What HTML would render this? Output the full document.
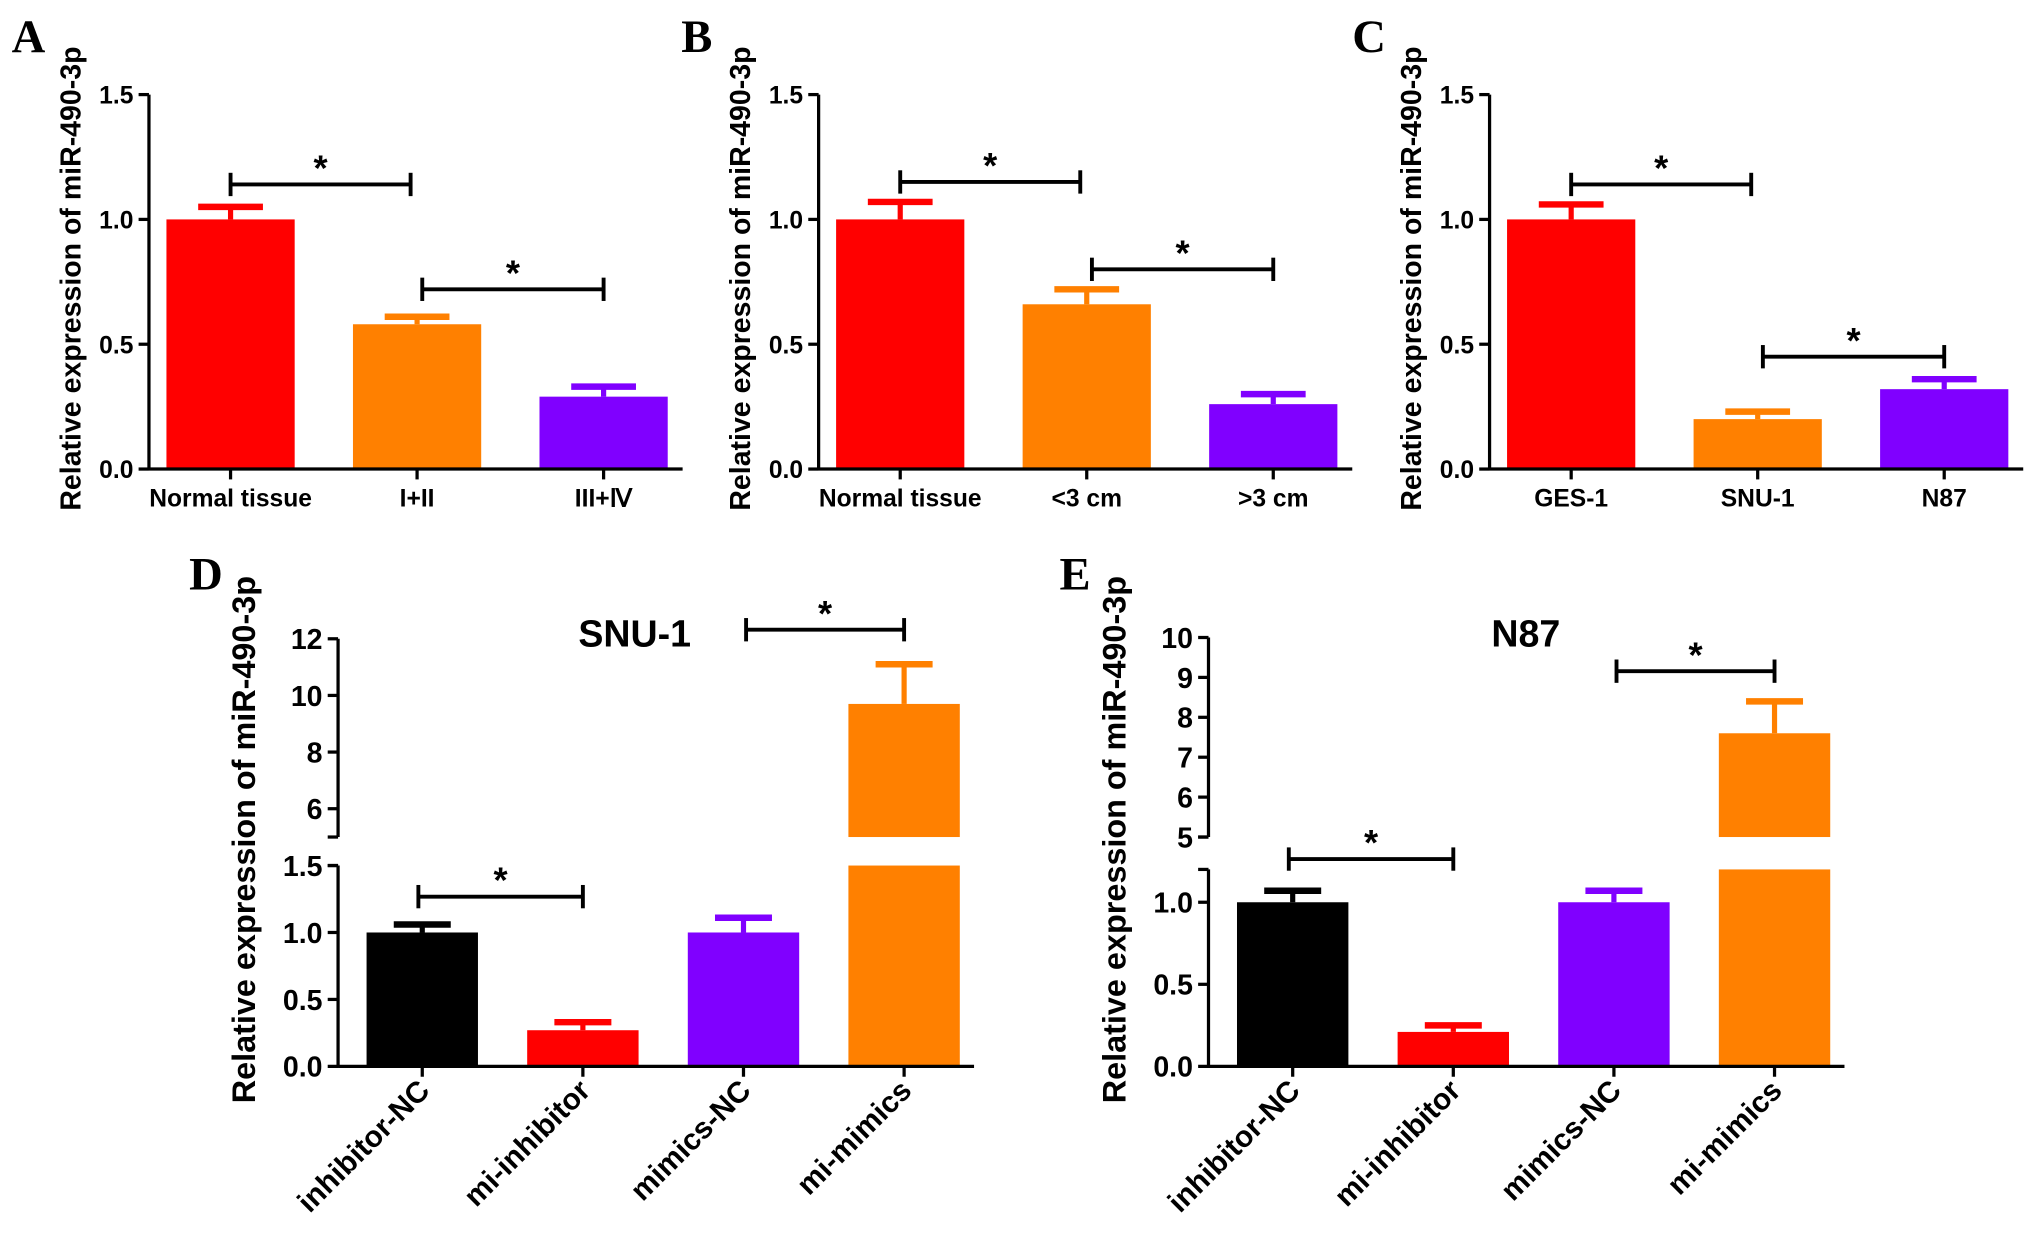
<!DOCTYPE html>
<html><head><meta charset="utf-8"><style>
html,body{margin:0;padding:0;background:#fff;}
svg{display:block;}
text{font-family:"Liberation Sans",Arial,sans-serif;font-weight:bold;fill:#000;}
.lt{font-family:"Liberation Serif",serif;font-weight:bold;}
</style></head><body>
<svg id="fig" xmlns="http://www.w3.org/2000/svg" width="2031" height="1240" viewBox="0 0 1568 957" preserveAspectRatio="none"></svg>
<script>
// ---- data ----
const catsA = ["Normal tissue","I+II","III+Ⅳ"];
const valsA = [1.0, 0.58, 0.29];
const errsA = [0.05, 0.03, 0.04];
const catsB = ["Normal tissue","<3 cm",">3 cm"];
const valsB = [1.0, 0.66, 0.26];
const errsB = [0.07, 0.06, 0.04];
const catsC = ["GES-1","SNU-1","N87"];
const valsC = [1.0, 0.2, 0.32];
const errsC = [0.06, 0.03, 0.04];
const catsD = ["inhibitor-NC","mi-inhibitor","mimics-NC","mi-mimics"];
const valsD = [1.0, 0.27, 1.0, 9.7];
const errsD = [0.06, 0.06, 0.11, 1.4];
const catsE = ["inhibitor-NC","mi-inhibitor","mimics-NC","mi-mimics"];
const valsE = [1.0, 0.21, 1.0, 7.6];
const errsE = [0.07, 0.04, 0.07, 0.8];
const ticksSmall = [0, 0.5, 1.0, 1.5];
const ticksDUp = [6, 8, 10, 12];
const ticksEUp = [5, 6, 7, 8, 9, 10];
const ticksELow = [0, 0.5, 1.0];

const NS="http://www.w3.org/2000/svg";
const svg=document.getElementById('fig');
function mk(tag,attrs,parent,txt){const e=document.createElementNS(NS,tag);for(const k in attrs)e.setAttribute(k,attrs[k]);if(txt!==undefined)e.textContent=txt;(parent||svg).appendChild(e);return e;}
const fmt=v=>Number.isInteger(v)&&v>=2?String(v):v.toFixed(1);

function sig(g,x1,x2,y){
  const b=mk('g',{},g);
  
  
  mk('line',{x1:x1,x2:x2,y1:y,y2:y,stroke:'#000','stroke-width':3},b);
  mk('line',{x1:x1,x2:x1,y1:y-9,y2:y+9,stroke:'#000','stroke-width':3},b);
  mk('line',{x1:x2,x2:x2,y1:y-9,y2:y+9,stroke:'#000','stroke-width':3},b);
  const s=mk('text',{x:(x1+x2)/2,y:y-3,'text-anchor':'middle','font-size':28},b,'*');
  
  
}

function simplePanel(o){
  const g=mk('g',{});
  
  
  const y0=362,y1=73,max=1.5;
  const Y=v=>y0-(v/max)*(y0-y1);
  const bw=99,step=144,c0=o.ax+63;
  const X=i=>c0+i*step;
  const L=mk('text',{x:o.ax-106,y:40,'font-size':36,class:'lt'},g,o.letter);
  
  
  const t=mk('text',{transform:`translate(${o.ax-53},${215}) rotate(-90)`,'text-anchor':'middle','font-size':22},g,'Relative expression of miR-490-3p');
  
  
  o.vals.forEach((v,i)=>{
    const col=o.colors[i];
    const r=mk('rect',{x:X(i)-bw/2,y:Y(v),width:bw,height:y0-Y(v),fill:col},g);
    
    
    mk('line',{x1:X(i),x2:X(i),y1:Y(v),y2:Y(v+o.errs[i]),stroke:col,'stroke-width':4},g);
    mk('line',{x1:X(i)-25,x2:X(i)+25,y1:Y(v+o.errs[i]),y2:Y(v+o.errs[i]),stroke:col,'stroke-width':5},g);
    mk('line',{x1:X(i),x2:X(i),y1:y0,y2:y0+8,stroke:'#000','stroke-width':2.5},g);
    const lb=mk('text',{x:X(i),y:391,'text-anchor':'middle','font-size':19},g,o.cats[i]);
    
    
  });
  mk('line',{x1:o.ax,x2:o.ax,y1:y1,y2:y0+1,stroke:'#000','stroke-width':2.5},g);
  mk('line',{x1:o.ax,x2:o.ax+412,y1:y0,y2:y0,stroke:'#000','stroke-width':2.5},g);
  ticksSmall.forEach(tv=>{
    mk('line',{x1:o.ax-8,x2:o.ax,y1:Y(tv),y2:Y(tv),stroke:'#000','stroke-width':2.5},g);
    const tl=mk('text',{x:o.ax-12,y:Y(tv)+7,'text-anchor':'end','font-size':19},g,fmt(tv));
    
    
  });
  sig(g,X(0),X(1)-5,Y(o.s1));
  sig(g,X(1)+4,X(2),Y(o.s2));
}
simplePanel({letter:'A',ax:115,cats:catsA,vals:valsA,errs:errsA,colors:['#ff0000','#ff8000','#8000ff'],s1:1.14,s2:0.72});
simplePanel({letter:'B',ax:632,cats:catsB,vals:valsB,errs:errsB,colors:['#ff0000','#ff8000','#8000ff'],s1:1.15,s2:0.8});
simplePanel({letter:'C',ax:1150,cats:catsC,vals:valsC,errs:errsC,colors:['#ff0000','#ff8000','#8000ff'],s1:1.14,s2:0.45});

function brokenPanel(o){
  const g=mk('g',{});
  
  
  const y0=823,lowTop=o.lowTopY,upBot=646,upTop=o.upTopY;
  const YL=v=>y0-(v/o.lowMax)*(y0-lowTop);
  const YU=v=>upBot-((v-o.upMin)/(o.upMax-o.upMin))*(upBot-upTop);
  const Y=v=>v<=o.lowMax?YL(v):YU(v);
  const bw=86,step=124,c0=o.ax+65;
  const X=i=>c0+i*step;
  const L=mk('text',{x:o.ax-115,y:455,'font-size':36,class:'lt'},g,o.letter);
  
  
  const t=mk('text',{transform:`translate(${o.ax-64},${648}) rotate(-90)`,'text-anchor':'middle','font-size':25},g,'Relative expression of miR-490-3p');
  
  
  const tt=mk('text',{x:o.titleX,y:499,'text-anchor':'middle','font-size':29},g,o.title);
  
  
  o.vals.forEach((v,i)=>{
    const col=o.colors[i];
    const e=v+o.errs[i];
    if(v<=o.lowMax){
      const r=mk('rect',{x:X(i)-bw/2,y:YL(v),width:bw,height:y0-YL(v),fill:col},g);
      
      
    } else {
      const r=mk('rect',{x:X(i)-bw/2,y:lowTop,width:bw,height:y0-lowTop,fill:col},g);
      
      
      const r2=mk('rect',{x:X(i)-bw/2,y:YU(v),width:bw,height:upBot-YU(v),fill:col},g);
      
      
    }
    mk('line',{x1:X(i),x2:X(i),y1:Y(v),y2:Y(e),stroke:col,'stroke-width':4},g);
    mk('line',{x1:X(i)-22,x2:X(i)+22,y1:Y(e),y2:Y(e),stroke:col,'stroke-width':5},g);
    mk('line',{x1:X(i),x2:X(i),y1:y0,y2:y0+8,stroke:'#000','stroke-width':2.5},g);
    const lb=mk('text',{transform:`translate(${X(i)+7},${843}) rotate(-45)`,'text-anchor':'end','font-size':23},g,o.cats[i]);
    
    
  });
  mk('line',{x1:o.ax,x2:o.ax,y1:lowTop,y2:y0+1,stroke:'#000','stroke-width':2.5},g);
  mk('line',{x1:o.ax,x2:o.ax,y1:upTop,y2:upBot,stroke:'#000','stroke-width':2.5},g);
  mk('line',{x1:o.ax-8,x2:o.ax,y1:upBot,y2:upBot,stroke:'#000','stroke-width':2.5},g);
  mk('line',{x1:o.ax-8,x2:o.ax,y1:lowTop,y2:lowTop,stroke:'#000','stroke-width':2.5},g);
  mk('line',{x1:o.ax,x2:o.ax+491,y1:y0,y2:y0,stroke:'#000','stroke-width':2.5},g);
  o.lowTicks.forEach(tv=>{
    mk('line',{x1:o.ax-8,x2:o.ax,y1:YL(tv),y2:YL(tv),stroke:'#000','stroke-width':2.5},g);
    const tl=mk('text',{x:o.ax-12,y:YL(tv)+8,'text-anchor':'end','font-size':22},g,fmt(tv));
    
    
  });
  o.upTicks.forEach(tv=>{
    mk('line',{x1:o.ax-8,x2:o.ax,y1:YU(tv),y2:YU(tv),stroke:'#000','stroke-width':2.5},g);
    const tl=mk('text',{x:o.ax-12,y:YU(tv)+8,'text-anchor':'end','font-size':22},g,String(tv));
    
    
  });
  sig(g,X(0)-3,X(1),o.s1Y);
  sig(g,X(2)+2,X(3),o.s2Y);
}
brokenPanel({letter:'D',ax:261,title:'SNU-1',titleX:490,cats:catsD,vals:valsD,errs:errsD,colors:['#000000','#ff0000','#8000ff','#ff8000'],
  lowMax:1.5,lowTopY:668,upMin:5,upMax:12,upTopY:493,lowTicks:ticksSmall,upTicks:ticksDUp,s1Y:692,s2Y:486});
brokenPanel({letter:'E',ax:933,title:'N87',titleX:1178,cats:catsE,vals:valsE,errs:errsE,colors:['#000000','#ff0000','#8000ff','#ff8000'],
  lowMax:1.2,lowTopY:671,upMin:5,upMax:10,upTopY:492,lowTicks:ticksELow,upTicks:ticksEUp,s1Y:663,s2Y:518});
</script>
</body></html>
